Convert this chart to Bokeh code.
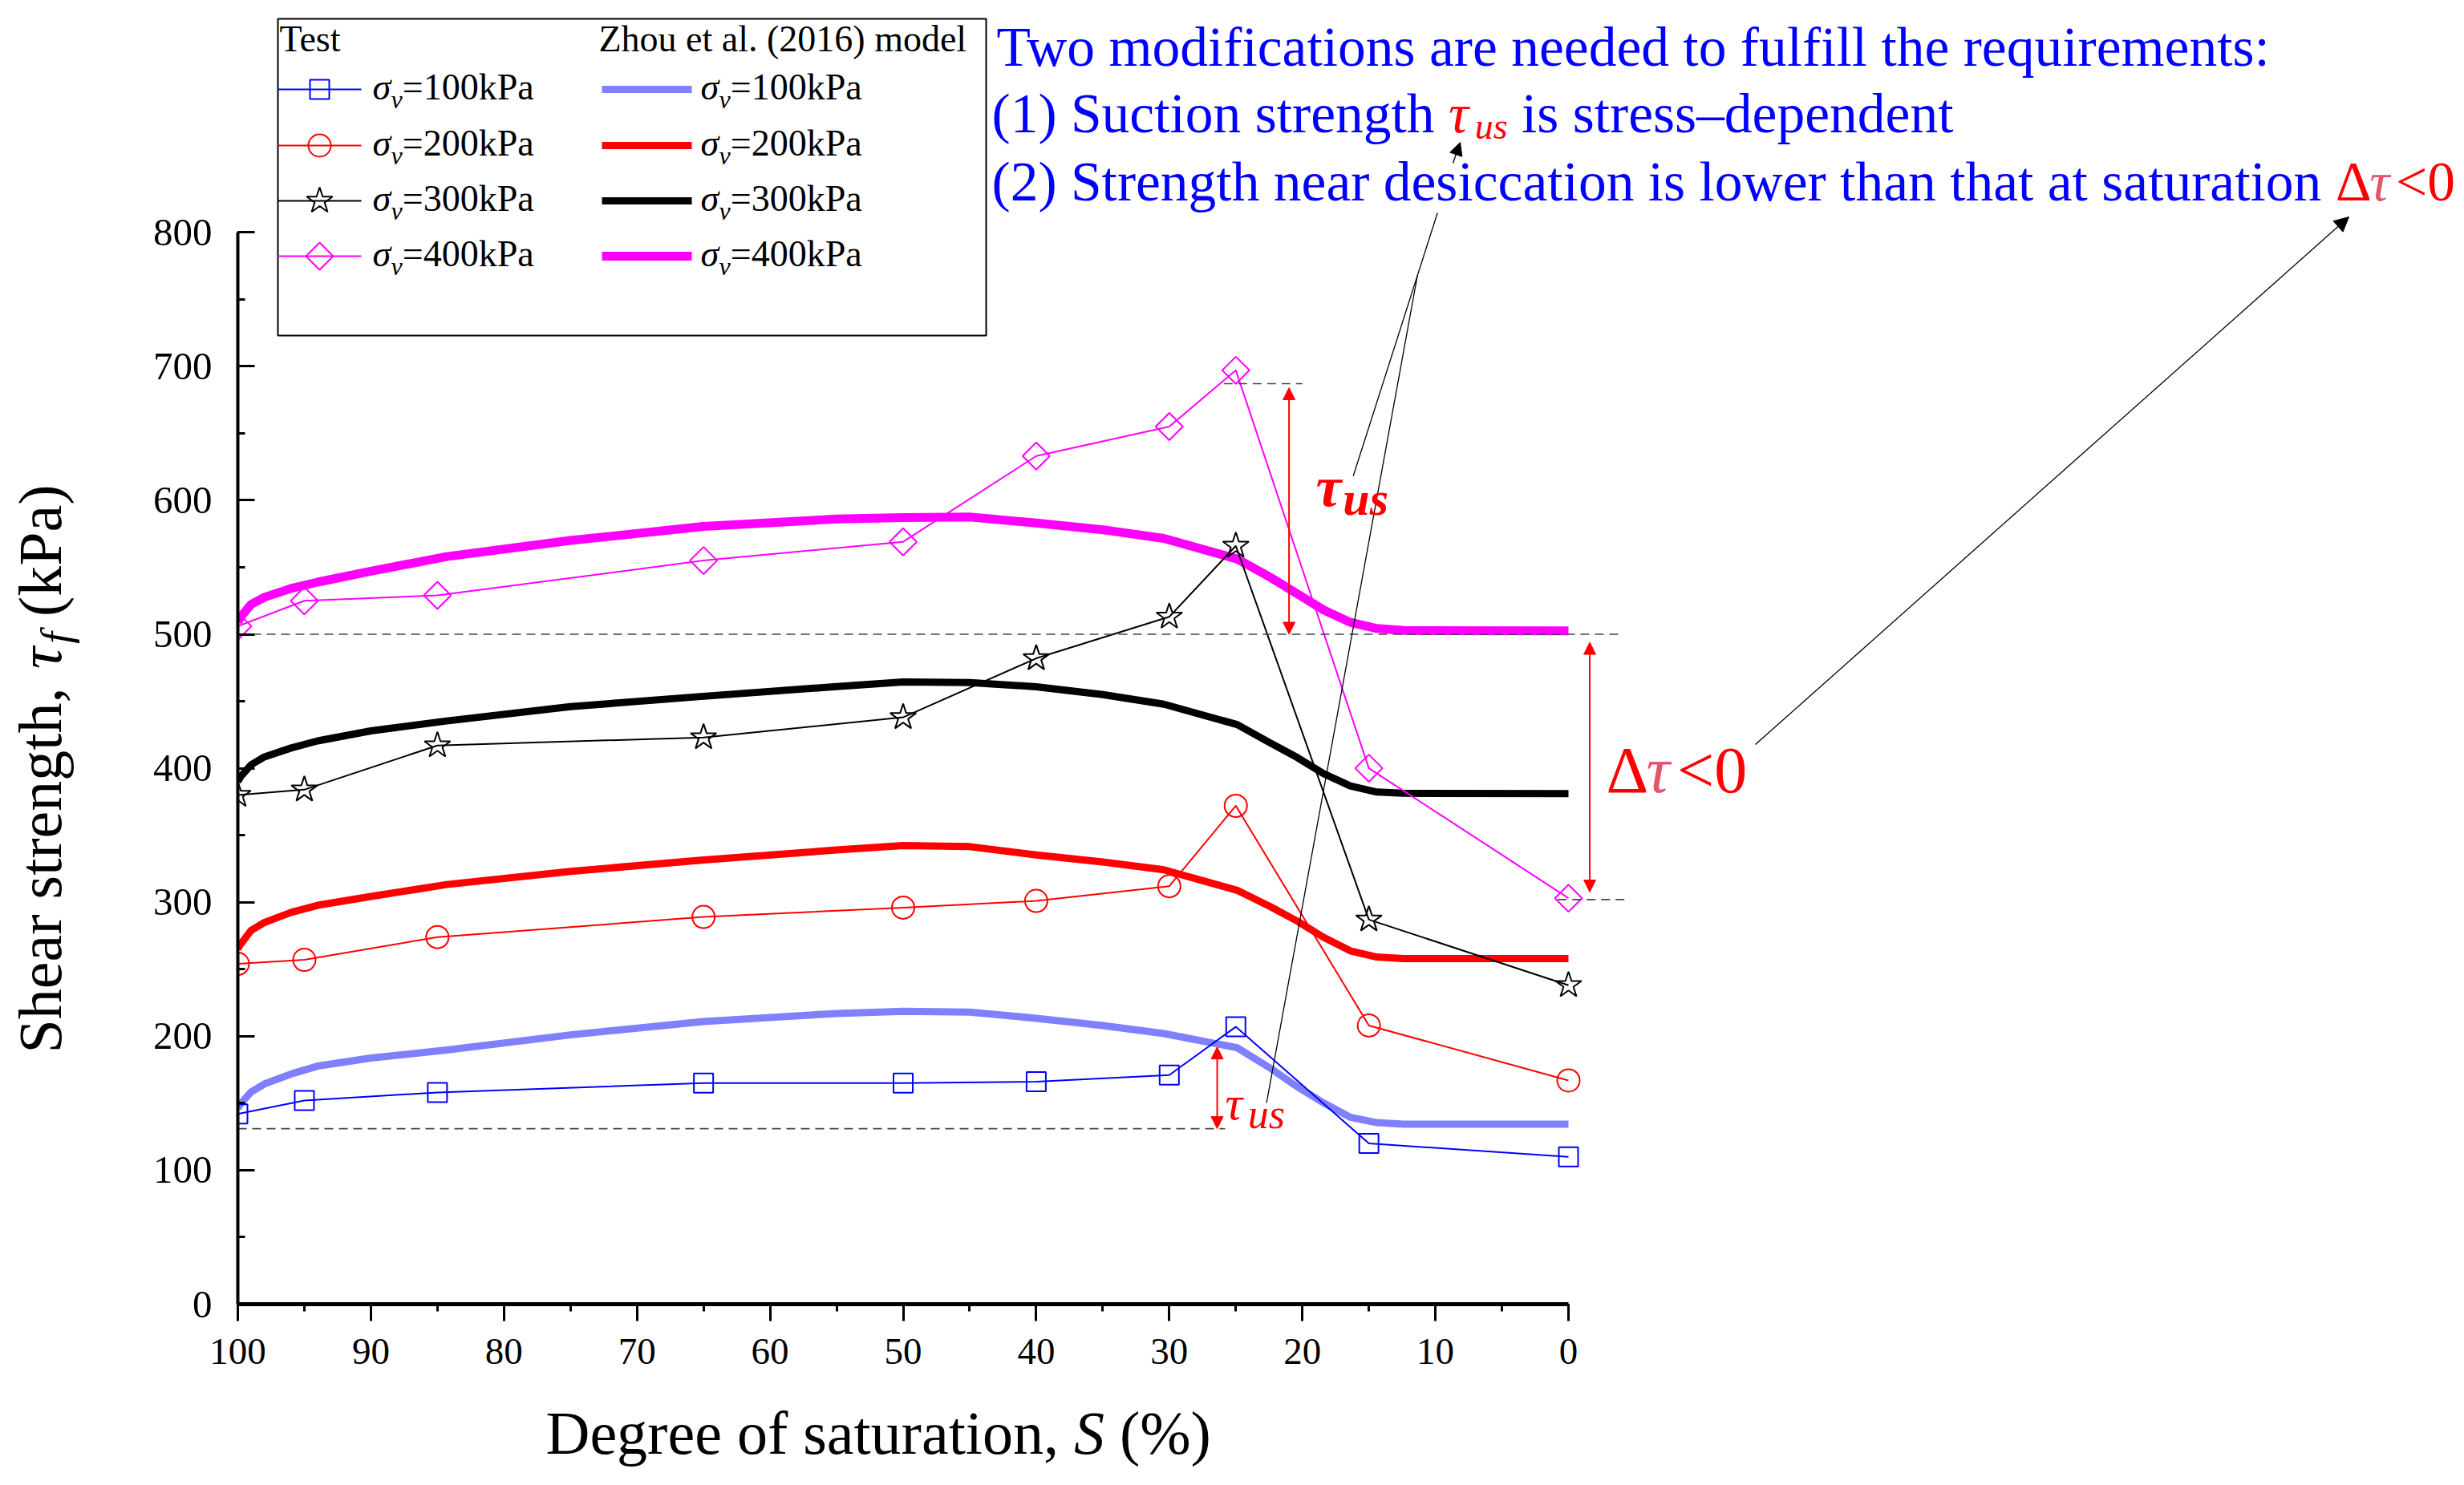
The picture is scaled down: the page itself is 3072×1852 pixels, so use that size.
import numpy as np
from bokeh.plotting import figure
from bokeh.layouts import row, column
from bokeh.models import Range1d, FixedTicker, Label, Arrow, NormalHead
from bokeh.embed import file_html
from bokeh.resources import INLINE

# ---------------- data ----------------
S_test = [100, 95, 85, 65, 50, 40, 30, 25, 15, 0]
test_100 = [142, 152, 158, 165, 165, 166, 171, 207, 120, 110]
test_200 = [254, 257, 274, 289, 296, 301, 312, 372, 208, 167]
test_300 = [380, 384, 417, 423, 438, 482, 513, 566, 287, 238]
test_400 = [506, 525, 529, 555, 569, 633, 655, 697, 400, 303]

S_model = [100, 99.8, 99, 98, 96, 94, 90, 84.3, 75, 65, 55, 50, 45, 40, 35, 30.4,
           24.9, 22.4, 20.4, 18.4, 16.4, 14.4, 12.4, 0]
model_100 = [146, 149.5, 158.4, 164.4, 171.8, 177.7, 183.7, 189.7, 201, 211, 217, 218.6, 218,
             213.4, 208, 202, 191.4, 176.1, 162.4, 150.2, 139.5, 135.5, 134.3, 134.3]
model_200 = [265, 268.6, 279, 284.9, 292.4, 297.7, 304.3, 313.2, 323, 331.6, 339, 342.3, 341.5,
             335.3, 330, 324.2, 308.9, 296.7, 286, 273.8, 263.7, 259.1, 257.9, 257.9]
model_300 = [390, 393.6, 402.6, 408.5, 415.1, 420.4, 427.9, 435.3, 446, 453.7, 461, 464.4, 464,
             460.8, 455, 447.8, 432.6, 418.8, 408.1, 395.9, 386.8, 382.2, 381.3, 381]
model_400 = [509, 512.7, 522.3, 527.6, 534.2, 538.9, 547, 558, 570, 580.5, 586, 587, 587.5,
             583, 578, 571.5, 556.2, 542.5, 530.3, 518.1, 508.9, 504.3, 502.8, 502.5]

x_ticks = list(range(0, 101, 10))
x_minor = list(range(0, 101, 5))
y_ticks = list(range(0, 801, 100))
y_minor = list(range(0, 801, 50))

stress_labels = ["=100kPa", "=200kPa", "=300kPa", "=400kPa"]
legend_head_test = "Test"
legend_head_model = "Zhou et al. (2016) model"

# annotation levels (kPa) and positions (S, %)
level_sat = 500
level_peak = 687
level_dry400 = 302
level_base100 = 131
arrow_tus_big = (21.0, 500, 684)
arrow_dtau = (-1.6, 494, 307.6)
arrow_tus_small = (26.4, 131, 192)

# ---------------- styles / geometry ----------------
FONT = "Liberation Serif"
C_TEST = ["#0000FF", "#FF0000", "#000000", "#FF00FF"]
C_MODEL = ["#8080FF", "#FF0000", "#000000", "#FF00FF"]
W_MODEL = [9, 9, 9, 11]
MARKERS = [("square", 24, 0.0), ("circle", 28, 0.0), ("star", 34, 0.0), ("square", 24, np.pi / 4)]

PAGE_W, PAGE_H = 3064, 1836
LEFT_W = 150             # left strip holding the y title
MAIN_H = 1740            # main figure height
AX_X, AX_Y = 296, 1626   # page px of the S=100 axis and tau=0 axis
KX, KY = 16.59, 1.671    # px per data unit
CORR = 0.34              # baseline correction (em)


def X(px):
    return 100 - (px - AX_X) / KX


def Y(py):
    return (AX_Y - py) / KY


def ident(v):
    return v


p = figure(width=PAGE_W - LEFT_W, height=MAIN_H, output_backend="svg", toolbar_location=None,
           title=None, x_range=Range1d(100, X(PAGE_W)), y_range=Range1d(0, Y(0)),
           min_border_left=AX_X - LEFT_W, min_border_right=0, min_border_top=0,
           min_border_bottom=MAIN_H - AX_Y)
p.outline_line_color = None
p.grid.visible = False

for ax, ticks, minor in ((p.xaxis, x_ticks, x_minor), (p.yaxis, y_ticks, y_minor)):
    ax.ticker = FixedTicker(ticks=ticks, minor_ticks=minor)
    ax.major_label_text_font = FONT
    ax.major_label_text_color = "black"
    ax.axis_line_color = "black"
    ax.major_tick_line_color = "black"
    ax.minor_tick_line_color = "black"
    ax.major_tick_line_width = 3
    ax.minor_tick_line_width = 3

p.xaxis.major_label_text_font_size = "47px"
p.yaxis.major_label_text_font_size = "49px"
p.xaxis.bounds = (0, 100)
p.yaxis.bounds = (0, 800)
p.xaxis.axis_line_width = 5
p.yaxis.axis_line_width = 4
p.xaxis.major_tick_out = 21
p.xaxis.major_tick_in = 0
p.xaxis.minor_tick_out = 9
p.xaxis.minor_tick_in = 0
p.xaxis.major_label_standoff = 22
p.yaxis.major_tick_in = 21
p.yaxis.major_tick_out = 0
p.yaxis.minor_tick_in = 9
p.yaxis.minor_tick_out = 0
p.yaxis.major_label_standoff = 32

# side strips for the axis titles (data = page px).  The left strip's frame is
# given the same vertical extent as the main frame (rows align their frames).
fL = figure(width=LEFT_W, height=MAIN_H, output_backend="svg", toolbar_location=None, title=None,
            x_range=Range1d(0, LEFT_W), y_range=Range1d(AX_Y, 0),
            x_axis_type=None, y_axis_type=None, min_border_left=0, min_border_right=0,
            min_border_top=0, min_border_bottom=MAIN_H - AX_Y)
fB = figure(width=PAGE_W, height=PAGE_H - MAIN_H, output_backend="svg", toolbar_location=None,
            title=None, x_range=Range1d(0, PAGE_W), y_range=Range1d(PAGE_H, MAIN_H),
            x_axis_type=None, y_axis_type=None, min_border=0)
for f in (fL, fB):
    f.outline_line_color = None

# ---------------- model curves ----------------
models = [model_100, model_200, model_300, model_400]
tests = [test_100, test_200, test_300, test_400]
for vals, c, w in zip(models, C_MODEL, W_MODEL):
    p.line(S_model, vals, line_color=c, line_width=w, line_join="round")

# ---------------- test data ----------------
for vals, c, (mk, sz, ang) in zip(tests, C_TEST, MARKERS):
    p.line(S_test, vals, line_color=c, line_width=2)
    p.scatter(S_test, vals, marker=mk, size=sz, angle=ang, fill_color=None,
              line_color=c, line_width=2)

# ---------------- dashed reference lines ----------------
p.segment(x0=[100, 25.9, 0.8, 100], y0=[level_sat, level_peak, level_dry400, level_base100],
          x1=[-3.9, 20.0, -4.3, 25.8], y1=[level_sat, level_peak, level_dry400, level_base100],
          line_color="#444444", line_width=1.6, line_dash="11 7")

for (xa, ya, yb) in (arrow_tus_big, arrow_dtau, arrow_tus_small):
    p.add_layout(Arrow(x_start=xa, y_start=ya, x_end=xa, y_end=yb, line_color="red", line_width=2,
                       start=NormalHead(size=15, fill_color="red", line_color="red"),
                       end=NormalHead(size=15, fill_color="red", line_color="red")))

# black leader lines (page pixel layout)
p.segment(x0=[X(1686.7), X(1578.6)], y0=[Y(593), Y(1375)],
          x1=[X(1791.7), X(1766.7)], y1=[Y(265), Y(343)], line_color="black", line_width=1.3)
p.add_layout(Arrow(x_start=X(1811), y_start=Y(203), x_end=X(1820), y_end=Y(177),
                   line_color="black", line_width=1.3,
                   end=NormalHead(size=16, fill_color="black", line_color="black")))
p.add_layout(Arrow(x_start=X(2188), y_start=Y(928), x_end=X(2928), y_end=Y(270),
                   line_color="black", line_width=1.3,
                   end=NormalHead(size=18, fill_color="black", line_color="black")))

# ---------------- rich text helper ----------------
WR = {' ': 250, '(': 333, ')': 333, ',': 250, '.': 250, ':': 278, '<': 564, '=': 564, '%': 833,
      '\u2013': 500, '-': 333,
      'A': 722, 'B': 667, 'C': 667, 'D': 722, 'E': 611, 'F': 556, 'G': 722, 'H': 722, 'I': 333,
      'K': 722, 'L': 611, 'M': 889, 'N': 722, 'O': 722, 'P': 556, 'R': 667, 'S': 556, 'T': 611,
      'W': 944, 'Z': 611,
      'a': 444, 'b': 500, 'c': 444, 'd': 500, 'e': 444, 'f': 333, 'g': 500, 'h': 500, 'i': 278,
      'k': 500, 'l': 278, 'm': 778, 'n': 500, 'o': 500, 'p': 500, 'q': 500, 'r': 333, 's': 389,
      't': 278, 'u': 500, 'v': 500, 'w': 722, 'y': 500,
      '\u03c4': 440, '\u03c3': 500, '\u0394': 610}
for d in '0123456789':
    WR[d] = 500
WI = dict(WR)
WI.update({'S': 500, 'f': 278, 'v': 444, 'u': 500, 's': 389, '\u03c4': 470, '\u03c3': 500})


def tw(s, size, italic):
    tab = WI if italic else WR
    return sum(tab.get(ch, 500) for ch in s) / 1000.0 * size


def rich(fig, fx, fy, px, py, pieces, vertical=False):
    pos = 0.0
    for text, size, color, style, shift in pieces:
        it = "italic" in style
        lead = len(text) - len(text.lstrip(" "))
        pos += tw(" " * lead, size, it)
        body = text.strip(" ")
        wb = tw(body, size, it)
        if vertical:
            x, y, ang, al = px + shift - CORR * size, py - pos - wb / 2, np.pi / 2, "center"
        else:
            x, y, ang, al = px + pos, py + shift - CORR * size, 0.0, "left"
        if body:
            fig.add_layout(Label(x=fx(x), y=fy(y), text=body, text_font=FONT,
                                 text_font_size=f"{size}px", text_font_style=style,
                                 text_color=color, text_align=al,
                                 text_baseline="alphabetic", angle=ang))
        pos += tw(text.lstrip(" "), size, it)


BLUE, RED, PINK = "#0000FF", "#FF0000", "#E3566A"

# axis titles
rich(fL, ident, ident, 75, 1313, [("Shear strength, ", 76, "black", "normal", 0),
                                  ("\u03c4", 76, "black", "italic", 0),
                                  ("f", 53, "black", "italic", 13),
                                  (" (kPa)", 76, "black", "normal", 0)], vertical=True)
rich(fB, ident, ident, 680, 1812, [("Degree of saturation, ", 76, "black", "normal", 0),
                                   ("S", 76, "black", "italic", 0),
                                   (" (%)", 76, "black", "normal", 0)])

# right-hand statements
TS = 69.5
rich(p, X, Y, 1242, 82, [("Two modifications are needed to fulfill the requirements:", TS, BLUE, "normal", 0)])
rich(p, X, Y, 1236, 165, [("(1) Suction strength ", TS, BLUE, "normal", 0),
                          ("\u03c4", TS, RED, "italic", 0),
                          ("us", 46, RED, "italic", 8),
                          (" is stress\u2013dependent", TS, BLUE, "normal", 0)])
rich(p, X, Y, 1236, 250, [("(2) Strength near desiccation is lower than that at saturation ", TS, BLUE, "normal", 0),
                          ("\u0394", TS, RED, "normal", 0),
                          ("\u03c4", TS, PINK, "italic", 0),
                          ("<0", TS, RED, "normal", 0)])

# in-plot annotations
rich(p, X, Y, 1640, 631, [("\u03c4", 72, RED, "bold italic", 0), ("us", 60, RED, "bold italic", 11)])
rich(p, X, Y, 1527, 1396, [("\u03c4", 60, RED, "italic", 0), ("us", 52, RED, "italic", 11)])
rich(p, X, Y, 2002, 988, [("\u0394", 82, RED, "normal", 0), ("\u03c4", 82, PINK, "italic", 0),
                          ("<0", 82, RED, "normal", 0)])

# ---------------- legend (drawn by hand) ----------------
p.quad(left=X(346), right=X(1229), top=Y(23), bottom=Y(418),
       fill_color="white", line_color="black", line_width=2)
rich(p, X, Y, 348, 64, [(legend_head_test, 46, "black", "normal", 0)])
rich(p, X, Y, 746, 64, [(legend_head_model, 46, "black", "normal", 0)])
rows = [111, 181, 250, 319]
for i, ry in enumerate(rows):
    mk, sz, ang = MARKERS[i]
    p.line([X(346), X(450)], [Y(ry), Y(ry)], line_color=C_TEST[i], line_width=2)
    p.scatter([X(398)], [Y(ry)], marker=mk, size=sz, angle=ang, fill_color=None,
              line_color=C_TEST[i], line_width=2)
    p.line([X(750), X(862)], [Y(ry), Y(ry)], line_color=C_MODEL[i], line_width=W_MODEL[i])
    for lx in (464, 873):
        rich(p, X, Y, lx, ry + 13, [("\u03c3", 46, "black", "italic", 0),
                                    ("v", 32, "black", "italic", 10),
                                    (stress_labels[i], 46, "black", "normal", 0)])

layout = column(row(fL, p), fB)
open("out.html", "w").write(file_html(layout, INLINE))
